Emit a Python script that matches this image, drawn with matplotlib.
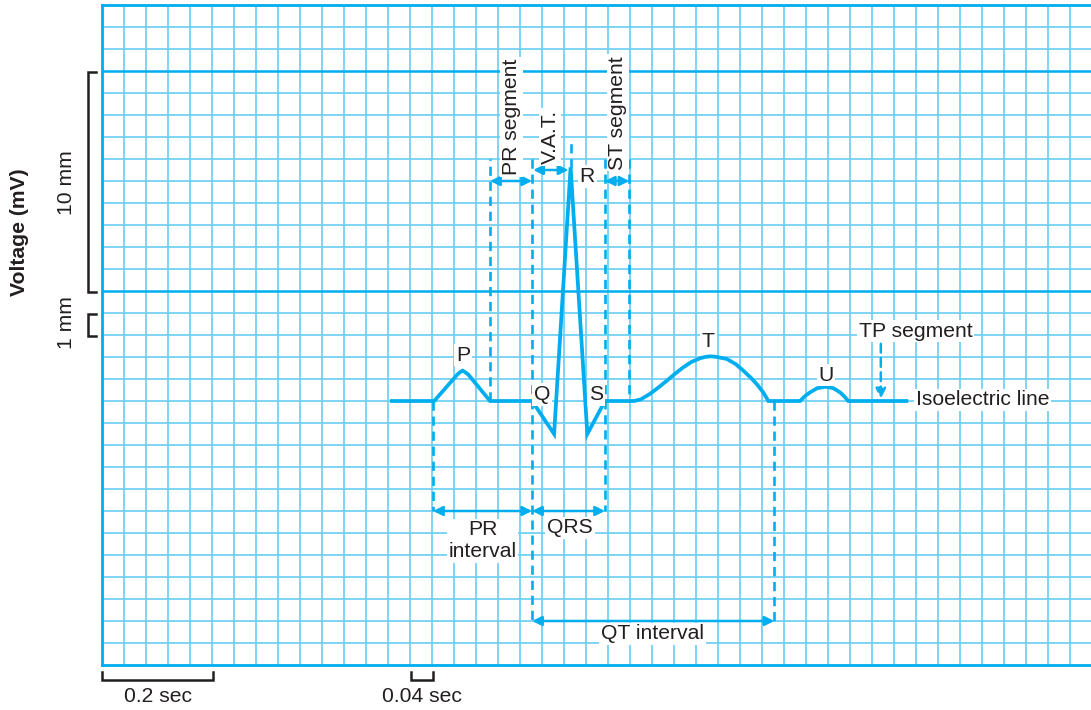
import numpy as np
import matplotlib
matplotlib.use("Agg")
import matplotlib.pyplot as plt

plt.rcParams['font.family'] = ['Liberation Sans', 'DejaVu Sans']

# ---- data (grid units: 1 small square = 1 mm = 0.04 s; y = 0 is isoelectric) ----
ecg_x = [13.09, 15.10, 16.15, 16.30, 16.39, 16.48, 16.65, 17.64, 19.55, 20.55, 21.30, 22.06, 22.86,
         24.20, 24.50, 24.90, 25.30, 25.67, 26.05, 26.42, 26.80, 27.18, 27.40, 27.64, 27.90,
         28.40, 28.80, 29.15, 29.50, 29.76, 30.05, 30.29,
         31.73, 31.95, 32.18, 32.50, 32.91, 33.25, 33.55, 33.75, 33.92, 36.65]
ecg_y = [0.00, 0.00, 1.20, 1.33, 1.38, 1.33, 1.20, 0.00, 0.00, -1.50, 10.62, -1.50, 0.00,
         0.00, 0.08, 0.32, 0.62, 0.92, 1.24, 1.53, 1.78, 1.94, 2.00, 2.03, 2.01,
         1.91, 1.68, 1.38, 1.05, 0.77, 0.40, 0.00,
         0.00, 0.22, 0.39, 0.58, 0.65, 0.58, 0.39, 0.20, 0.00, 0.00]

wave_labels = ["P", "Q", "R", "S", "T", "U"]
wave_label_x = [16.41, 19.99, 22.06, 22.45, 27.56, 32.91]
wave_label_y = [2.09, 0.29, 10.20, 0.29, 2.70, 1.18]

# dashed guide lines: x, y_start, y_end
guide_x = [15.05, 17.64, 19.55, 21.30, 22.86, 23.97, 30.56]
guide_y0 = [0.0, 0.0, 11.0, 10.6, 11.0, 11.0, 0.0]
guide_y1 = [-5.0, 11.0, -10.0, 11.9, -5.0, 0.0, -10.0]

# measured spans: label, x_start, x_end, y
span_names = ["PR segment", "V.A.T.", "ST segment", "PR interval", "QRS", "QT interval"]
span_x0 = [17.64, 19.60, 22.86, 15.05, 19.55, 19.55]
span_x1 = [19.55, 21.20, 23.97, 19.55, 22.86, 30.56]
span_y = [10.0, 10.5, 10.0, -5.0, -5.0, -10.0]

GRID_THIN = "#6dcff6"
BLUE = "#00aeef"
INK = "#231f20"
FS = 15.2

W, H = 1091, 710
fig = plt.figure(figsize=(W / 100, H / 100), dpi=100)
ax = fig.add_axes([102 / W, (H - 665) / H, (W - 102) / W, 660 / H])
ax.set_xlim(0, (W - 102) / 22)
ax.set_ylim(-12, 18)

# grid
for gx in np.arange(1, 46):
    ax.axvline(gx, color=GRID_THIN, lw=1.25, zorder=1)
for gy in np.arange(-11, 18):
    if gy in (5, 15):
        continue
    ax.axhline(gy, color=GRID_THIN, lw=1.25, zorder=1)
for gy in (5, 15):
    ax.axhline(gy, color=BLUE, lw=1.8, zorder=1.5)
ax.set_xticks([])
ax.set_yticks([])
for s in ("top", "bottom", "left"):
    ax.spines[s].set_color(BLUE)
    ax.spines[s].set_linewidth(2.0)
ax.spines["right"].set_visible(False)

# dashed guides
for gx, y0, y1 in zip(guide_x, guide_y0, guide_y1):
    ax.plot([gx, gx], [y0, y1], color=BLUE, lw=1.9, ls=(0, (3.5, 2.2)), zorder=2)

# ECG trace
ax.plot(ecg_x, ecg_y, color=BLUE, lw=2.7, solid_joinstyle="miter",
        solid_capstyle="butt", zorder=4)

# span arrows
for x0, x1, y in zip(span_x0, span_x1, span_y):
    ax.annotate("", xy=(x1, y), xytext=(x0, y),
                arrowprops=dict(arrowstyle="<|-|>", color=BLUE, lw=1.8,
                                mutation_scale=14, shrinkA=0, shrinkB=0),
                zorder=3)

box = dict(boxstyle="square,pad=0.08", fc="white", ec="none")

# rotated labels
ax.text(18.61, 12.9, "PR segment", rotation=90, ha="center", va="center",
        fontsize=FS, color=INK, bbox=box, zorder=5)
ax.text(20.36, 12.0, "V.A.T.", rotation=90, ha="center", va="center",
        fontsize=FS, color=INK, bbox=box, zorder=5)
ax.text(23.45, 13.1, "ST segment", rotation=90, ha="center", va="center",
        fontsize=FS, color=INK, bbox=box, zorder=5)

# horizontal labels
ax.text(17.30, -6.36, "PR\ninterval", ha="center", va="center", linespacing=1.2,
        fontsize=FS, color=INK, bbox=box, zorder=5)
ax.text(21.27, -5.77, "QRS", ha="center", va="center",
        fontsize=FS, color=INK, bbox=box, zorder=5)
ax.text(25.03, -10.59, "QT interval", ha="center", va="center",
        fontsize=FS, color=INK, bbox=box, zorder=5)
ax.text(36.99, 3.18, "TP segment", ha="center", va="center",
        fontsize=FS, color=INK, bbox=box, zorder=5)
ax.text(37.0, 0.05, "Isoelectric line", ha="left", va="center",
        fontsize=FS, color=INK, bbox=box, zorder=5)

for lab, lx, ly in zip(wave_labels, wave_label_x, wave_label_y):
    ax.text(lx, ly, lab, ha="center", va="center", fontsize=FS, color=INK,
            bbox=box, zorder=5)

# TP segment arrow
ax.annotate("", xy=(35.4, 0.1), xytext=(35.4, 2.6),
            arrowprops=dict(arrowstyle="-|>", color=BLUE, lw=1.8, ls=(0, (3.5, 2.2)),
                            mutation_scale=15, shrinkA=0, shrinkB=0), zorder=3)

# ---- brackets and labels outside the grid (figure pixel coordinates) ----
def px(x, y):
    return (x / W, 1 - y / H)

def line_px(xs, ys):
    fig.add_artist(plt.Line2D([x / W for x in xs], [1 - y / H for y in ys],
                              color=INK, lw=1.8, solid_joinstyle="miter"))

line_px([96, 88, 88, 96], [72, 72, 292, 292])
line_px([96, 88, 88, 96], [314, 314, 336, 336])
line_px([102, 102, 213, 213], [672, 680, 680, 672])
line_px([411, 411, 433, 433], [672, 680, 680, 672])

fig.text(*px(20, 232), "Voltage (mV)", rotation=90, ha="center", va="center",
         fontsize=FS, fontweight="bold", color=INK)
fig.text(*px(67, 183), "10 mm", rotation=90, ha="center", va="center",
         fontsize=FS, color=INK)
fig.text(*px(67, 323), "1 mm", rotation=90, ha="center", va="center",
         fontsize=FS, color=INK)
fig.text(*px(158, 696), "0.2 sec", ha="center", va="center", fontsize=FS, color=INK)
fig.text(*px(422, 696), "0.04 sec", ha="center", va="center", fontsize=FS, color=INK)

fig.savefig("out.png", dpi=100, facecolor="white")
